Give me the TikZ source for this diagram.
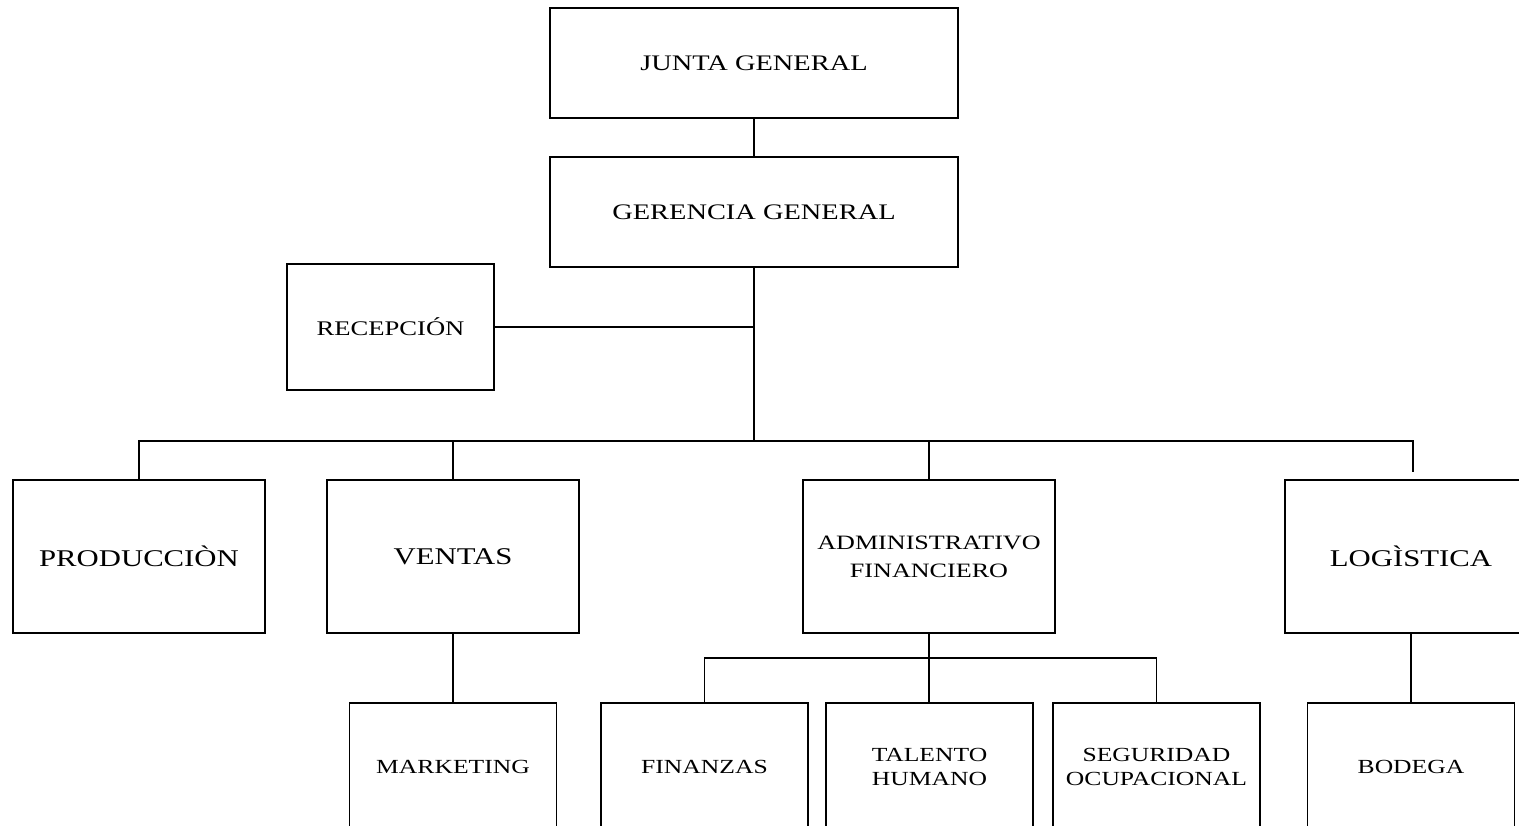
\documentclass[tikz,border=0pt]{standalone}
\usepackage{fontspec}
\setmainfont{Liberation Serif}[FakeStretch=1.28]
\begin{document}
\begin{tikzpicture}[x=1pt,y=-1pt,
  box/.style={draw=black, line width=1.4pt, inner sep=0pt, align=center, fill=white},
  topbox/.style={box, minimum width=408pt, minimum height=110pt, font=\fontsize{22.2}{26}\selectfont},
  bigbox/.style={box, minimum width=252pt, minimum height=153pt, font=\fontsize{24}{28}\selectfont},
  midbox/.style={box, minimum width=252pt, minimum height=153pt, font=\fontsize{20.4}{28}\selectfont},
  lowbox/.style={box, minimum width=207pt, minimum height=128pt, font=\fontsize{20}{24}\selectfont},
  recbox/.style={box, minimum width=207pt, minimum height=126pt, font=\fontsize{20.8}{24}\selectfont},
  link/.style={draw=black, line width=1.8pt}]
\useasboundingbox (0,0) rectangle (1519,826);
\clip (0,0) rectangle (1519,826);
\fill[white] (0,0) rectangle (1519,826);

\node[topbox] (junta) at (754,63) {JUNTA GENERAL};
\node[topbox] (ger) at (754,212) {GERENCIA GENERAL};
\node[recbox] (rec) at (390.5,327) {RECEPCIÓN};

\node[bigbox] (prod) at (139,556.5) {PRODUCCIÒN};
\node[bigbox] (ven) at (453,556.5) {VENTAS};
\node[midbox] (adm) at (929,556.5) {ADMINISTRATIVO\\FINANCIERO};
\node[bigbox] (log) at (1411,556.5) {LOGÌSTICA};

\node[lowbox] (mkt) at (453,767) {MARKETING};
\node[lowbox] (fin) at (704.5,767) {FINANZAS};
\node[lowbox] (tal) at (929.5,767) {TALENTO\\HUMANO};
\node[lowbox] (seg) at (1156.5,767) {SEGURIDAD\\OCUPACIONAL};
\node[lowbox] (bod) at (1411,767) {BODEGA};

\coordinate (bus) at (754,441);
\coordinate (recj) at (754,327);
\coordinate (abus) at (929,658);

\draw[link] (junta.south) -- (ger.north);
\draw[link] (ger.south) -- (bus);
\draw[link] (rec.east) -- (recj);
\draw[link] (prod.north) |- (bus) -| (ven.north);
\draw[link] (bus) -| (adm.north);
\draw[link, shorten >=7pt] (bus) -| ([xshift=2pt]log.north);
\draw[link] (ven.south) -- (mkt.north);
\draw[link] (adm.south) -- (abus);
\draw[link] (fin.north) |- (abus) -| (seg.north);
\draw[link] (abus) -- ([xshift=-0.5pt]tal.north);
\draw[link] (log.south) -- (bod.north);
\end{tikzpicture}
\end{document}
